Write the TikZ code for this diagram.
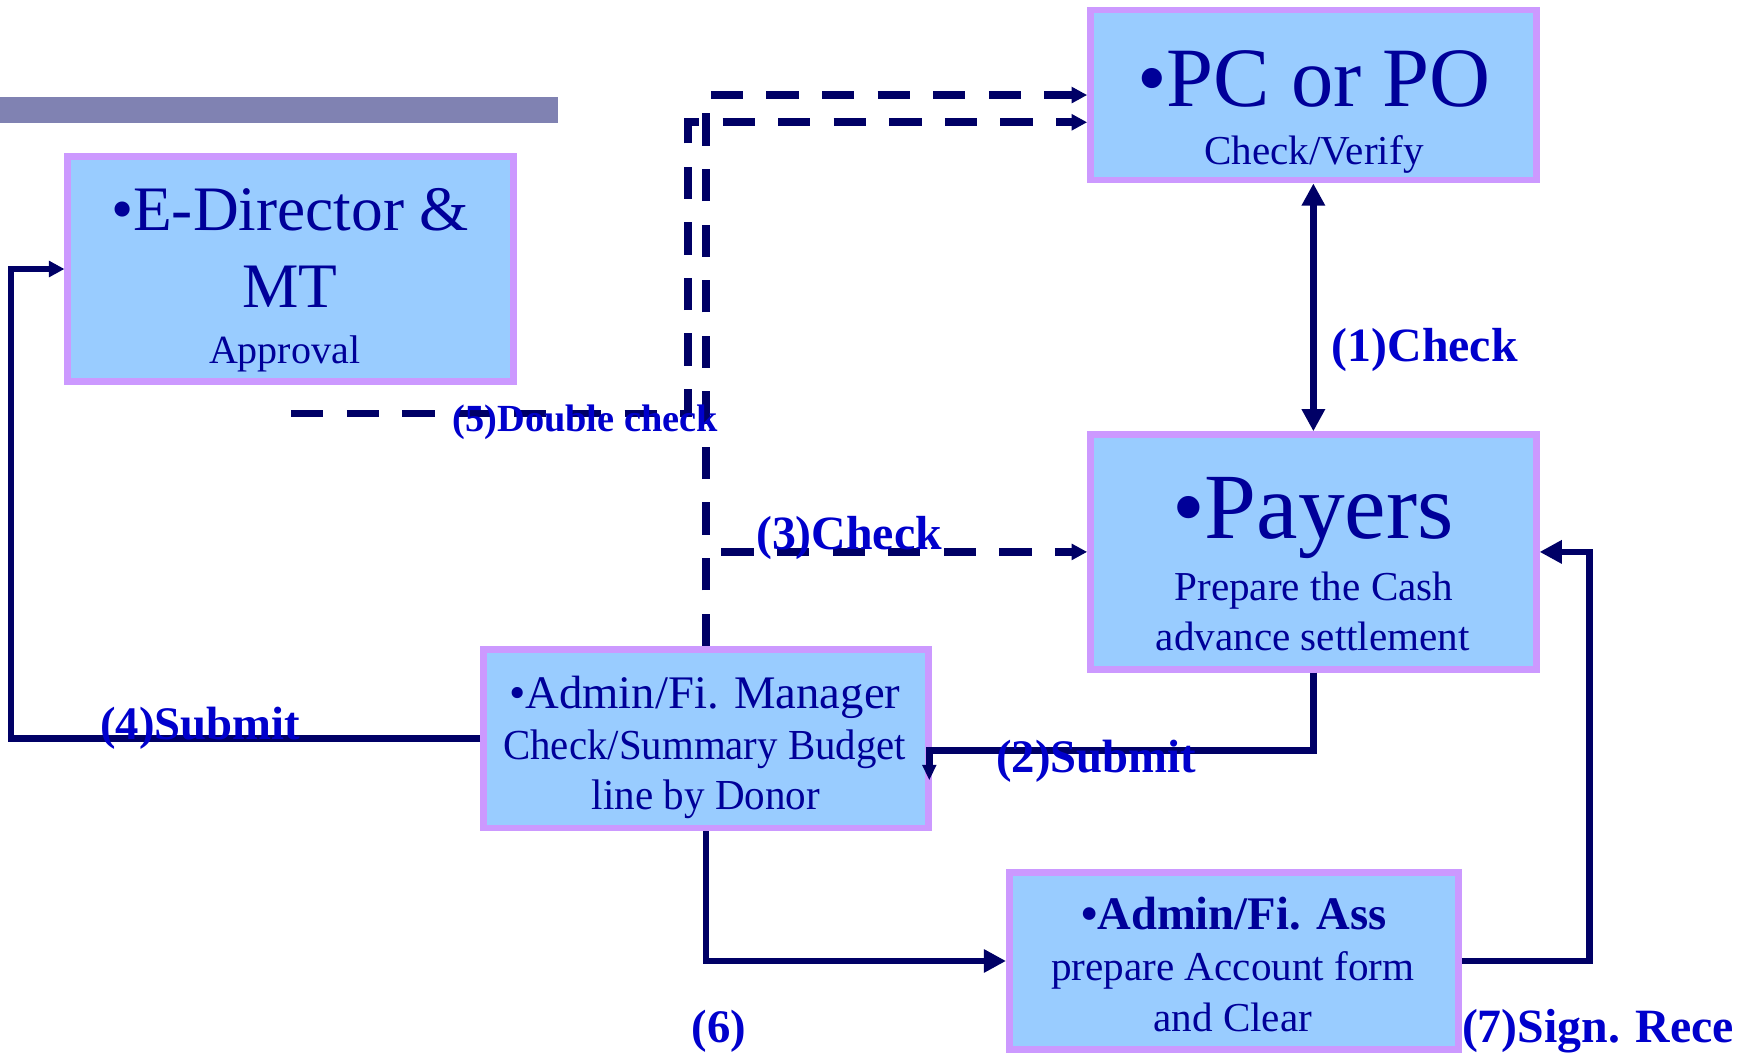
\documentclass[tikz,border=0pt]{standalone}
\usepackage{fontspec}
\usepackage{graphicx}
\setmainfont{Liberation Serif}
\usetikzlibrary{arrows.meta}
\definecolor{boxfill}{HTML}{99CCFF}
\definecolor{boxline}{HTML}{CC99FF}
\definecolor{boxtext}{HTML}{000099}
\definecolor{labtext}{HTML}{0000CC}
\definecolor{conn}{HTML}{000066}
\definecolor{barcol}{RGB}{128,130,178}
\newcommand{\fs}[1]{\fontsize{#1}{#1}\selectfont}
\newcommand{\sx}[2]{\scalebox{#1}[1]{#2}}
\begin{document}
\begin{tikzpicture}[x=1pt,y=-1pt,
  box/.style={draw=boxline, fill=boxfill, line width=6pt, inner sep=0pt},
  btxt/.style={anchor=base, text=boxtext, inner sep=0pt},
  lab/.style={anchor=base west, text=labtext, inner sep=0pt, font=\bfseries},
  sline/.style={draw=conn, line width=6pt},
  dline/.style={draw=conn, line width=7pt, dash pattern=on 29pt off 21pt},
  bigtip/.style={-{Triangle[length=20pt,width=20pt]}},
  smalltip/.style={-{Triangle[length=14pt,width=14pt]}}]
\useasboundingbox (0,0) rectangle (1568,947);
\fill[barcol] (0,87) rectangle (502,111);

% boxes
\node[box, minimum width=401pt, minimum height=202pt] (ed) at (261.5,242) {};
\node[box, minimum width=401pt, minimum height=153pt] (pc) at (1181.5,85.5) {};
\node[box, minimum width=401pt, minimum height=211pt] (py) at (1181.5,496.5) {};
\node[box, minimum width=400pt, minimum height=161pt] (mg) at (635,664.5) {};
\node[box, minimum width=404pt, minimum height=159pt] (as) at (1110,864.5) {};

% box texts
\node[btxt, font=\fs{57}] (ed1) at (261,207) {•E-Director \&};
\node[btxt, font=\fs{57}] (ed2) at (261,277) {MT};
\node[btxt, font=\fs{36}] (ed3) at (256,327) {Approval};
\node[btxt, font=\fs{76}] (pc1) at (1182,96) {•PC or PO};
\node[btxt, font=\fs{37}] (pc2) at (1182,148) {Check/Verify};
\node[btxt, font=\fs{84}] (py1) at (1181,484) {•Payers};
\node[btxt, font=\fs{37}] (py2) at (1182,540) {Prepare the Cash};
\node[btxt, font=\fs{37}] (py3) at (1181,585) {advance settlement};
\node[btxt, font=\fs{42}] (mg1) at (634,637) {\sx{1.0}{•Admin/Fi. Manager}};
\node[btxt, font=\fs{38.5}] (mg2) at (634,683) {\sx{0.955}{Check/Summary Budget}};
\node[btxt, font=\fs{38.5}] (mg3) at (635,728) {\sx{0.96}{line by Donor}};
\node[btxt, font=\fs{42}\bfseries] (as1) at (1110,836) {•Admin/Fi. Ass};
\node[btxt, font=\fs{37}] (as2) at (1109,882) {prepare Account form};
\node[btxt, font=\fs{37}] (as3) at (1109,928) {and Clear};

% coordinates
\coordinate (k4) at (10,664.5);
\coordinate (k2a) at (836,675);
\coordinate (k2b) at (836,702);
\coordinate (k3) at (635,496.5);
\coordinate (k5) at (262,372);
\coordinate (k5b) at (619,110);
\coordinate (k7) at (1430,864.5);

% connectors
\draw[sline, {Triangle[length=20pt,width=20pt]}-{Triangle[length=20pt,width=20pt]}] (pc.south) -- (py.north);
\draw[sline, -{Triangle[length=14pt,width=12pt]}] (py.south) |- (k2a) -- (k2b);
\draw[sline, smalltip] (mg.west) -- (k4) |- (ed.west);
\draw[sline, bigtip] (mg.south) |- (as.west);
\draw[sline, bigtip] (as.east) -- (k7) |- (py.east);
\draw[dline, smalltip] (mg.north) |- (pc.west);
\draw[dline, smalltip, dash phase=36pt] (k3) -- (py.west);
\draw[dline, smalltip] (k5) -| (k5b) -- (k5b -| pc.west);

% labels
\node[lab, font=\fs{43}\bfseries] (l1) at (1198,325) {(1)Check};
\node[lab, font=\fs{34.5}\bfseries] (l5) at (407,388) {(5)Double check};
\node[lab, font=\fs{43}\bfseries] (l3) at (680,494) {(3)Check};
\node[lab, font=\fs{42}\bfseries] (l4) at (90,665) {(4)Submit};
\node[lab, font=\fs{42}\bfseries] (l2) at (896,695) {(2)Submit};
\node[lab, font=\fs{42}\bfseries] (l6) at (622,938) {(6)};
\node[lab, font=\fs{43}\bfseries] (l7) at (1315,938) {(7)Sign. Rece};
\end{tikzpicture}
\end{document}
